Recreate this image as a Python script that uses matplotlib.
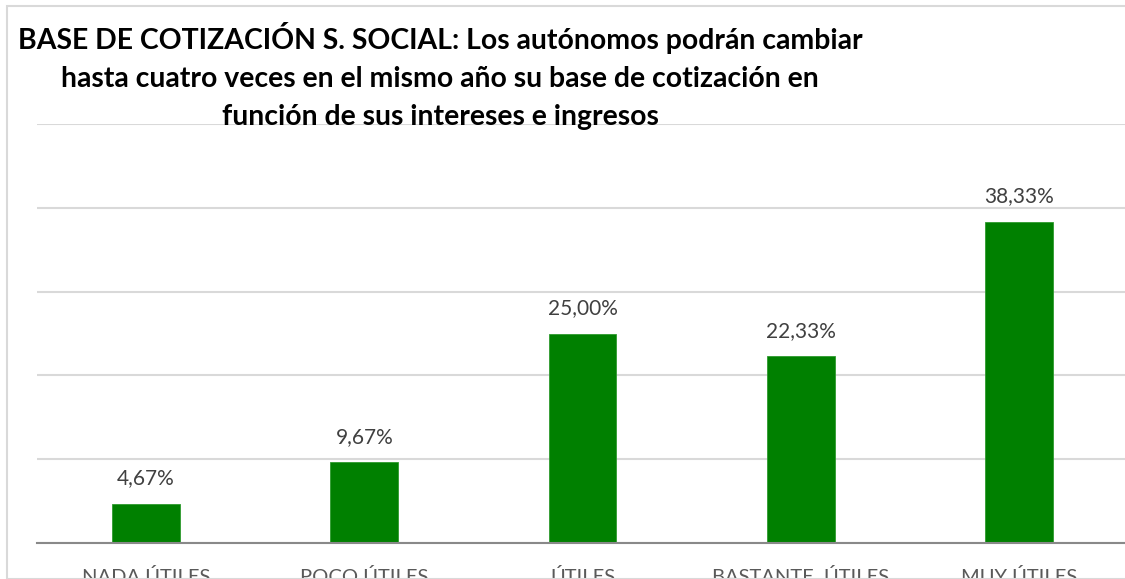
import matplotlib.pyplot as plt
from matplotlib.patches import Rectangle

categories = ["NADA ÚTILES", "POCO ÚTILES", "ÚTILES", "BASTANTE  ÚTILES", "MUY ÚTILES"]
values = [4.67, 9.67, 25.00, 22.33, 38.33]
title_lines = [
    "BASE DE COTIZACIÓN S. SOCIAL: Los autónomos podrán cambiar",
    "hasta cuatro veces en el mismo año su base de cotización en",
    "función de sus intereses e ingresos",
]

plt.rcParams['font.family'] = ['Lato', 'DejaVu Sans']

W, H = 1125, 579
fig = plt.figure(figsize=(W / 100, H / 100), dpi=100)
fig.patch.set_facecolor('white')

# chart area border (cropped Excel chart)
fig.patches.append(Rectangle((7 / W, 0), 1.2, 1 - 6 / H, transform=fig.transFigure,
                             fill=False, edgecolor='#d9d9d9', lw=1.5))

ax = fig.add_axes([37 / W, 36 / H, 1091 / W, 419 / H])
x = range(len(categories))
bars = ax.bar(x, values, width=0.31, color='#008000', edgecolor='#2e9a2e', lw=0.6, zorder=3)
ax.set_xlim(-0.5, len(categories) - 0.5)
ax.set_ylim(0, 50)
ax.set_yticks(range(0, 51, 10))
ax.yaxis.grid(True, color='#d9d9d9', lw=1.5, zorder=0)
ax.tick_params(axis='y', left=False, labelleft=False)
ax.tick_params(axis='x', length=0, pad=18, labelsize=14.5, labelcolor='#595959')
ax.set_xticks(list(x))
ax.set_xticklabels(categories)
for s in ['top', 'right', 'left']:
    ax.spines[s].set_visible(False)
ax.spines['bottom'].set_color('#898989')
ax.spines['bottom'].set_linewidth(1.5)
ax.spines['bottom'].set_zorder(4)

for b, v in zip(bars, values):
    ax.annotate(f"{v:.2f}%".replace('.', ','), (b.get_x() + b.get_width() / 2, v),
                xytext=(0, 11), textcoords='offset points', ha='center', va='bottom',
                fontsize=15, color='#404040')

for i, line in enumerate(title_lines):
    fig.text(440 / W, 1 - (49 + 38 * i) / H, line, ha='center', va='baseline',
             fontsize=20.4, fontweight='bold', color='black')

fig.savefig('out.png', dpi=100)
